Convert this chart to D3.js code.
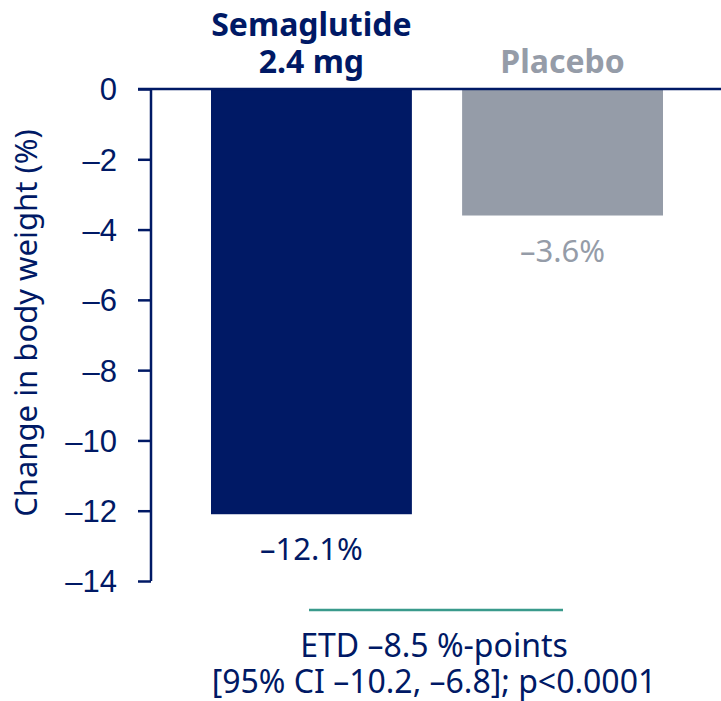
<!DOCTYPE html>
<html lang="en">
<head>
<meta charset="utf-8">
<title>Body weight change</title>
<script src="https://d3js.org/d3.v7.min.js"></script>
<style>
  body { margin: 0; background: #fff; }
  svg { font-family: "Noto Sans", sans-serif; display: block; }
  .tick text { font-size: 31px; fill: #001965; }
</style>
</head>
<body>
<div id="vis-container"></div>
<script>
// data
var groups = ["Semaglutide 2.4 mg", "Placebo"];
var groupLines = [["Semaglutide", "2.4 mg"], ["Placebo"]];
var changes = [-12.1, -3.6];
var valueLabels = ["\u201312.1%", "\u20133.6%"];
var barColors = ["#001965", "#959ca8"];
var yTicks = [0, -2, -4, -6, -8, -10, -12, -14];
var footLines = ["ETD \u20138.5 %-points", "[95% CI \u201310.2, \u20136.8]; p<0.0001"];

var W = 721, H = 701;
var navy = "#001965";

var svg = d3.select("#vis-container").append("svg")
    .attr("width", W)
    .attr("height", H);

var y = d3.scaleLinear()
    .domain([0, -14])
    .range([89, 581]);

var x = d3.scaleBand()
    .domain(groups)
    .range([211, 663])
    .paddingInner(0.2)
    .paddingOuter(0);

// y axis
var yAxis = d3.axisLeft(y)
    .tickValues(yTicks)
    .tickSize(13)
    .tickPadding(21)
    .tickFormat(function(d) { return d === 0 ? "0" : "\u2013" + Math.abs(d); });

var gy = svg.append("g")
    .attr("transform", "translate(151,0)")
    .call(yAxis);
gy.select(".domain").remove();
gy.selectAll(".tick line").attr("stroke", navy).attr("stroke-width", 2.5);
gy.selectAll(".tick text").attr("dy", "0.35em");

// vertical axis line
svg.append("line")
    .attr("x1", 151).attr("x2", 151)
    .attr("y1", y(0)).attr("y2", y(-14))
    .attr("stroke", navy).attr("stroke-width", 2.5);

// bars
svg.selectAll(".bar")
    .data(changes)
    .enter().append("rect")
    .attr("class", "bar")
    .attr("x", function(d, i) { return x(groups[i]); })
    .attr("y", y(0))
    .attr("width", x.bandwidth())
    .attr("height", function(d) { return y(d) - y(0); })
    .attr("fill", function(d, i) { return barColors[i]; });

// zero line across the top
svg.append("line")
    .attr("x1", 138).attr("x2", W)
    .attr("y1", y(0)).attr("y2", y(0))
    .attr("stroke", navy).attr("stroke-width", 2.5);

// value labels under the bars
svg.selectAll(".val")
    .data(changes)
    .enter().append("text")
    .attr("class", "val")
    .attr("x", function(d, i) { return x(groups[i]) + x.bandwidth() / 2; })
    .attr("y", function(d) { return y(d) + 46; })
    .attr("text-anchor", "middle")
    .attr("font-size", 31)
    .attr("fill", function(d, i) { return barColors[i]; })
    .text(function(d, i) { return valueLabels[i]; });

// group headers
groups.forEach(function(g, i) {
    var lines = groupLines[i];
    var t = svg.append("text")
        .attr("text-anchor", "middle")
        .attr("font-size", 32)
        .attr("font-weight", "bold")
        .attr("fill", barColors[i]);
    lines.forEach(function(s, j) {
        t.append("tspan")
            .attr("x", x(g) + x.bandwidth() / 2)
            .attr("y", 73 - (lines.length - 1 - j) * 37)
            .text(s);
    });
});

// y axis title
svg.append("text")
    .attr("transform", "translate(37,323) rotate(-90)")
    .attr("text-anchor", "middle")
    .attr("font-size", 31)
    .attr("fill", navy)
    .text("Change in body weight (%)");

// ETD bracket line and text
svg.append("line")
    .attr("x1", 309).attr("x2", 563)
    .attr("y1", 610).attr("y2", 610)
    .attr("stroke", "#3a9a8c").attr("stroke-width", 2.5);

svg.selectAll(".foot")
    .data(footLines)
    .enter().append("text")
    .attr("class", "foot")
    .attr("x", 434)
    .attr("y", function(d, i) { return 657 + i * 36; })
    .attr("text-anchor", "middle")
    .attr("font-size", 32)
    .attr("fill", navy)
    .text(function(d) { return d; });
</script>
</body>
</html>
